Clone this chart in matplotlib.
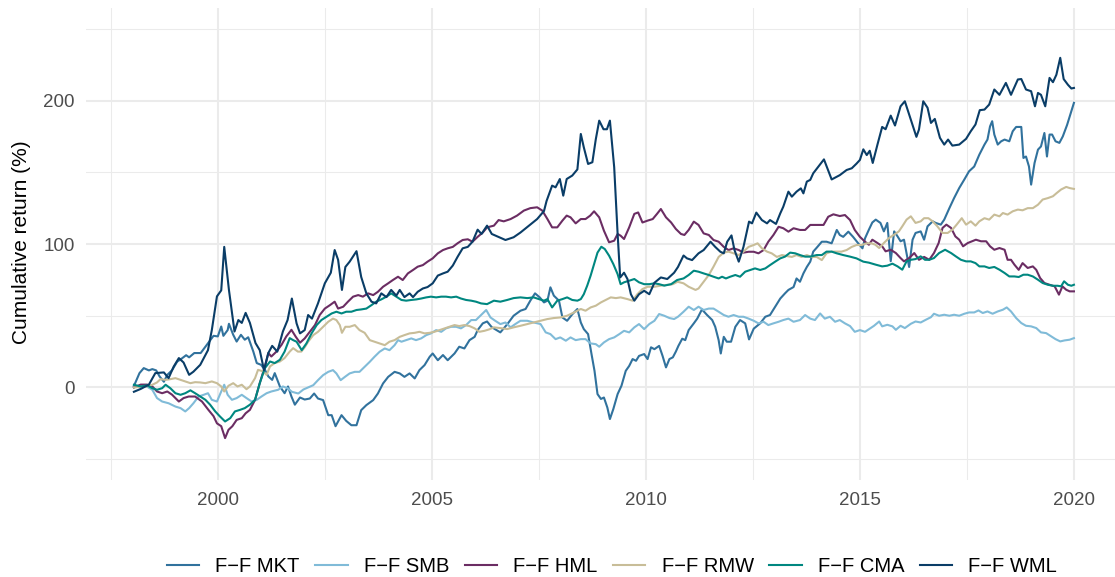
import matplotlib
matplotlib.use("Agg")
import matplotlib.pyplot as plt
from matplotlib.ticker import MultipleLocator

plt.rcParams['font.family'] = ['Liberation Sans', 'DejaVu Sans']

# Cumulative returns (%), (decimal year, value) per factor
mkt_year = [1998.04, 1998.17, 1998.27, 1998.39, 1998.47, 1998.56, 1998.64, 1998.74, 1998.82, 1998.93, 1999.05, 1999.15, 1999.26, 1999.33, 1999.45, 1999.6, 1999.75, 1999.9, 2000.0, 2000.08, 2000.13, 2000.23, 2000.26, 2000.36, 2000.44, 2000.54, 2000.63, 2000.71, 2000.83, 2000.91, 2001.01, 2001.1, 2001.18, 2001.27, 2001.33, 2001.45, 2001.56, 2001.64, 2001.72, 2001.8, 2001.92, 2002.03, 2002.15, 2002.25, 2002.34, 2002.46, 2002.58, 2002.66, 2002.75, 2002.89, 2003.0, 2003.12, 2003.24, 2003.35, 2003.47, 2003.63, 2003.74, 2003.86, 2003.98, 2004.13, 2004.25, 2004.36, 2004.48, 2004.6, 2004.71, 2004.83, 2004.95, 2005.02, 2005.14, 2005.26, 2005.37, 2005.53, 2005.64, 2005.76, 2005.88, 2006.0, 2006.07, 2006.19, 2006.29, 2006.4, 2006.6, 2006.76, 2006.91, 2007.07, 2007.19, 2007.3, 2007.41, 2007.52, 2007.62, 2007.7, 2007.77, 2007.85, 2007.97, 2008.05, 2008.16, 2008.28, 2008.4, 2008.48, 2008.55, 2008.65, 2008.73, 2008.8, 2008.87, 2008.95, 2009.02, 2009.1, 2009.16, 2009.24, 2009.34, 2009.43, 2009.53, 2009.61, 2009.69, 2009.77, 2009.84, 2009.96, 2010.04, 2010.12, 2010.2, 2010.31, 2010.39, 2010.47, 2010.55, 2010.63, 2010.7, 2010.76, 2010.85, 2010.92, 2011.0, 2011.12, 2011.2, 2011.31, 2011.43, 2011.55, 2011.62, 2011.7, 2011.75, 2011.82, 2011.89, 2011.99, 2012.09, 2012.2, 2012.32, 2012.41, 2012.52, 2012.67, 2012.79, 2012.9, 2013.02, 2013.14, 2013.25, 2013.33, 2013.45, 2013.52, 2013.6, 2013.68, 2013.76, 2013.84, 2013.91, 2013.99, 2014.11, 2014.22, 2014.34, 2014.46, 2014.53, 2014.61, 2014.73, 2014.84, 2014.96, 2015.06, 2015.12, 2015.21, 2015.29, 2015.37, 2015.48, 2015.56, 2015.64, 2015.72, 2015.8, 2015.88, 2015.95, 2016.03, 2016.15, 2016.23, 2016.3, 2016.42, 2016.5, 2016.58, 2016.7, 2016.77, 2016.89, 2016.97, 2017.09, 2017.2, 2017.32, 2017.44, 2017.55, 2017.67, 2017.79, 2017.91, 2017.98, 2018.04, 2018.09, 2018.14, 2018.22, 2018.3, 2018.38, 2018.49, 2018.57, 2018.65, 2018.77, 2018.82, 2018.88, 2018.95, 2019.0, 2019.08, 2019.16, 2019.23, 2019.31, 2019.37, 2019.43, 2019.49, 2019.57, 2019.66, 2019.74, 2019.84, 2019.94, 2020.0]
mkt_ret = [1, 10, 13.5, 11.9, 12.8, 11.9, 7.7, 4, 8.8, 12, 18, 20, 22.5, 21, 24, 24, 30, 36, 35.6, 42.5, 36, 40, 44.4, 36.7, 32, 36.7, 33.3, 35, 25, 17, 15.8, 12.3, 7.7, 5.3, 10, 0.7, -4, 0.7, -6.3, -12, -7, -8.4, -7.7, -4.2, -7.7, -8.8, -19.3, -19.3, -27, -19.3, -23.3, -26.3, -26.3, -15.8, -12.3, -8.8, -4.2, 2.8, 7.4, 10.9, 9.8, 7.4, 9.8, 6.3, 12.1, 15.6, 21.4, 23.7, 19, 22.6, 19, 23.7, 28.4, 27.2, 33, 35.3, 40, 44.7, 46, 42, 38.4, 44, 50, 53.5, 54.7, 60.5, 65.6, 62.8, 59.3, 60.5, 69.8, 64, 60.5, 48.8, 46.5, 51, 54.7, 45.3, 40.7, 37.2, 23.3, 11.6, -4.6, -8, -7, -14, -22, -15, -4.6, 1.2, 11.6, 15, 19.8, 18.6, 22, 23.3, 19.8, 28, 26.7, 29, 22, 14, 19.8, 21, 25, 29, 34, 33, 40, 44.7, 48, 54.4, 50.5, 47, 42.3, 33, 23.7, 35.3, 31.9, 31.9, 42.3, 47, 44.7, 33.5, 41, 44.7, 49.3, 50.5, 56.3, 62, 65.6, 68, 70, 76, 73.7, 79.5, 84, 87.7, 94.7, 97.4, 101.6, 101.6, 100.5, 109.8, 106.3, 105, 108.6, 105, 100.5, 97, 104, 110, 115, 117, 114.7, 108.8, 114.7, 88, 108.8, 105.3, 101.9, 103, 84, 103, 107.7, 108.8, 103, 112.3, 115.8, 114.7, 113.5, 117, 125, 132, 139, 145, 150.7, 154, 162.3, 169.3, 172.8, 182, 185.6, 176.3, 169.3, 171.6, 172.8, 171.6, 178.6, 181.6, 181.6, 160, 161, 154, 141.4, 156.5, 165.8, 168, 177.4, 161, 176.3, 176.3, 171.6, 170.5, 175, 183, 192.6, 198.4]

smb_year = [1998.04, 1998.2, 1998.35, 1998.47, 1998.58, 1998.7, 1998.85, 1999.01, 1999.13, 1999.24, 1999.33, 1999.43, 1999.55, 1999.67, 1999.77, 1999.86, 1999.98, 2000.08, 2000.15, 2000.23, 2000.33, 2000.44, 2000.56, 2000.67, 2000.79, 2000.91, 2001.02, 2001.14, 2001.25, 2001.41, 2001.52, 2001.63, 2001.73, 2001.88, 2002.0, 2002.11, 2002.23, 2002.34, 2002.46, 2002.58, 2002.69, 2002.77, 2002.87, 2002.97, 2003.08, 2003.2, 2003.31, 2003.43, 2003.55, 2003.66, 2003.78, 2003.9, 2004.01, 2004.13, 2004.21, 2004.29, 2004.4, 2004.52, 2004.63, 2004.75, 2004.87, 2004.98, 2005.1, 2005.22, 2005.33, 2005.45, 2005.57, 2005.68, 2005.8, 2005.92, 2006.03, 2006.15, 2006.27, 2006.37, 2006.48, 2006.6, 2006.72, 2006.84, 2006.95, 2007.07, 2007.23, 2007.38, 2007.54, 2007.66, 2007.77, 2007.89, 2008.0, 2008.13, 2008.24, 2008.36, 2008.48, 2008.59, 2008.71, 2008.83, 2008.91, 2009.02, 2009.14, 2009.26, 2009.38, 2009.49, 2009.61, 2009.73, 2009.84, 2009.96, 2010.08, 2010.2, 2010.31, 2010.43, 2010.55, 2010.66, 2010.75, 2010.88, 2011.0, 2011.12, 2011.23, 2011.35, 2011.47, 2011.58, 2011.7, 2011.82, 2011.93, 2012.05, 2012.17, 2012.28, 2012.4, 2012.52, 2012.63, 2012.75, 2012.86, 2012.98, 2013.1, 2013.21, 2013.33, 2013.45, 2013.6, 2013.72, 2013.84, 2013.95, 2014.07, 2014.18, 2014.3, 2014.42, 2014.53, 2014.65, 2014.77, 2014.88, 2015.0, 2015.12, 2015.23, 2015.33, 2015.45, 2015.52, 2015.64, 2015.76, 2015.84, 2015.95, 2016.05, 2016.19, 2016.3, 2016.42, 2016.54, 2016.66, 2016.73, 2016.85, 2016.97, 2017.09, 2017.2, 2017.32, 2017.44, 2017.55, 2017.67, 2017.77, 2017.87, 2017.98, 2018.1, 2018.22, 2018.34, 2018.43, 2018.53, 2018.65, 2018.77, 2018.88, 2019.0, 2019.12, 2019.23, 2019.35, 2019.47, 2019.57, 2019.68, 2019.78, 2019.9, 2020.0]
smb_ret = [0, 1.5, 0.5, -1.6, -7.4, -9.8, -11, -13.3, -14.4, -16.7, -14.4, -11, -6.3, -5.1, -4, -8.6, -9.8, -2.8, 1.9, -5.1, -8.6, -7.4, -5.1, -7.4, -9.8, -8.6, -6.3, -4, -2.8, -1.6, 0.7, -0.5, -3, -4.2, -1.4, 0, 1.6, 5.1, 8.6, 10.9, 12.1, 9.8, 5.1, 7.4, 9.8, 10.9, 10.9, 14.4, 17.9, 21.4, 24.9, 27.2, 26, 29.5, 33, 31.9, 33, 34.2, 33, 34.2, 36.5, 37.7, 40, 38.8, 41.2, 42.3, 42.3, 41.2, 43.5, 47, 47, 50.5, 54, 48.8, 46.5, 44.2, 45.3, 41.9, 44.2, 46.5, 46.5, 45.3, 44.2, 38.4, 37.2, 33.7, 34.9, 32.6, 34.9, 33, 33.7, 33.7, 30.7, 30.2, 28.4, 31.4, 33.7, 34.9, 37.2, 39.5, 38.4, 41.9, 44.2, 40.7, 44.2, 46.5, 51.2, 50, 48.4, 47.7, 49.3, 52.8, 56.3, 54, 56.3, 54, 55, 55, 52.8, 50.5, 49.3, 50.5, 49.3, 49.3, 48, 46.5, 44.7, 45.8, 43.5, 44.7, 45.8, 47, 48, 45.8, 47, 50.5, 48, 47, 51.6, 48, 49.3, 45.8, 47, 44.7, 42.8, 38.8, 40, 38.8, 41, 43, 46, 42.6, 43.7, 42.6, 40.2, 43, 41.4, 44.4, 46, 45.3, 47.2, 49, 51.4, 50, 50.7, 50, 50.7, 50, 51.4, 52.3, 52.3, 53.7, 51.9, 53, 51.4, 53, 54.2, 55.8, 53, 48.4, 44.9, 43, 42.6, 41.4, 38.4, 37.9, 35.6, 33.7, 32.1, 32.8, 33.3, 34.4]

hml_year = [1998.04, 1998.2, 1998.35, 1998.47, 1998.58, 1998.7, 1998.82, 1998.93, 1999.09, 1999.2, 1999.32, 1999.47, 1999.63, 1999.78, 1999.9, 1999.98, 2000.08, 2000.17, 2000.25, 2000.34, 2000.44, 2000.56, 2000.65, 2000.75, 2000.87, 2000.98, 2001.1, 2001.18, 2001.25, 2001.37, 2001.49, 2001.6, 2001.72, 2001.82, 2001.92, 2002.03, 2002.15, 2002.27, 2002.38, 2002.5, 2002.62, 2002.73, 2002.81, 2002.93, 2003.04, 2003.16, 2003.28, 2003.39, 2003.51, 2003.63, 2003.74, 2003.86, 2003.98, 2004.09, 2004.21, 2004.32, 2004.44, 2004.56, 2004.67, 2004.79, 2004.9, 2005.02, 2005.14, 2005.26, 2005.37, 2005.49, 2005.6, 2005.72, 2005.84, 2005.95, 2006.07, 2006.19, 2006.29, 2006.45, 2006.56, 2006.68, 2006.84, 2006.99, 2007.15, 2007.3, 2007.46, 2007.58, 2007.7, 2007.81, 2007.93, 2008.05, 2008.15, 2008.24, 2008.36, 2008.48, 2008.59, 2008.7, 2008.79, 2008.91, 2009.02, 2009.14, 2009.26, 2009.34, 2009.41, 2009.49, 2009.61, 2009.73, 2009.82, 2009.92, 2010.04, 2010.16, 2010.26, 2010.35, 2010.47, 2010.59, 2010.7, 2010.82, 2010.9, 2011.0, 2011.12, 2011.23, 2011.35, 2011.47, 2011.58, 2011.7, 2011.82, 2011.93, 2012.05, 2012.17, 2012.28, 2012.4, 2012.52, 2012.63, 2012.75, 2012.86, 2012.98, 2013.1, 2013.21, 2013.33, 2013.45, 2013.6, 2013.72, 2013.84, 2013.99, 2014.15, 2014.26, 2014.38, 2014.53, 2014.65, 2014.77, 2014.88, 2015.0, 2015.12, 2015.21, 2015.29, 2015.41, 2015.52, 2015.6, 2015.72, 2015.84, 2015.95, 2016.03, 2016.15, 2016.27, 2016.38, 2016.5, 2016.62, 2016.73, 2016.84, 2016.93, 2017.02, 2017.13, 2017.23, 2017.32, 2017.41, 2017.52, 2017.62, 2017.71, 2017.83, 2017.95, 2018.04, 2018.14, 2018.26, 2018.38, 2018.45, 2018.53, 2018.61, 2018.71, 2018.8, 2018.92, 2019.04, 2019.12, 2019.21, 2019.31, 2019.43, 2019.55, 2019.65, 2019.73, 2019.82, 2019.9, 2020.0]
hml_ret = [0, 2, 2, 0.7, -2.8, -4, -2.8, -5, -9.8, -7.4, -6.3, -6.3, -9.8, -15.6, -20, -25, -27, -35.3, -29.5, -27, -22.6, -21.4, -18, -15.6, -8.6, 3, 14.7, 24, 21.6, 25, 29.8, 35.6, 40.2, 35.4, 31.2, 34.2, 38.8, 43.5, 50.5, 55, 57.4, 59.8, 55, 56.3, 59.8, 63.3, 64.4, 63.3, 65.6, 64.4, 66.7, 70.2, 72.6, 74.9, 77.2, 74.9, 79.5, 81.9, 84.2, 85.3, 87.7, 90, 93.5, 95.8, 97, 98, 100.5, 102.8, 103.3, 101.6, 105, 108, 111.6, 112.8, 116.7, 115.8, 117.4, 119.8, 123.3, 125, 125.6, 123.3, 117.4, 111.6, 111.6, 116.3, 119.8, 118.6, 114.4, 117.4, 117.4, 119.8, 122.8, 118.6, 109.3, 101.2, 102.3, 107, 105.8, 103.5, 111.6, 121, 122, 115, 116.3, 117.4, 121, 124.4, 118.6, 115, 110.5, 107, 106.3, 109.8, 115.6, 113.3, 107.4, 106.3, 102.8, 101.6, 98, 95.8, 97, 95.8, 94, 94.6, 94.6, 93.5, 95.8, 101.6, 106.3, 112, 111, 108.6, 111, 109.8, 109.8, 113.3, 113.3, 113.3, 119, 120.7, 119.5, 120.2, 116.7, 109.8, 105, 101.6, 99.5, 103, 100.7, 98.4, 94.9, 96, 93.7, 90.2, 87.9, 90.2, 93.7, 89, 91, 89, 93.7, 100.7, 111.2, 113.5, 111.2, 105.3, 103, 98.4, 100.7, 101.9, 103, 101.9, 101.9, 98.4, 96, 97.2, 96, 89, 89, 85.6, 82, 86.7, 83.3, 84.4, 82, 76.3, 72.8, 71.6, 70.5, 64.7, 70.5, 68.1, 67, 67]

rmw_year = [1998.04, 1998.2, 1998.35, 1998.47, 1998.58, 1998.66, 1998.78, 1998.89, 1999.01, 1999.13, 1999.24, 1999.36, 1999.47, 1999.59, 1999.71, 1999.86, 1999.98, 2000.08, 2000.15, 2000.25, 2000.36, 2000.46, 2000.56, 2000.67, 2000.75, 2000.87, 2000.94, 2001.06, 2001.14, 2001.22, 2001.33, 2001.45, 2001.56, 2001.68, 2001.76, 2001.87, 2001.95, 2002.03, 2002.11, 2002.23, 2002.34, 2002.46, 2002.58, 2002.69, 2002.77, 2002.85, 2002.9, 2002.98, 2003.08, 2003.2, 2003.31, 2003.43, 2003.55, 2003.66, 2003.78, 2003.9, 2004.01, 2004.13, 2004.25, 2004.36, 2004.48, 2004.6, 2004.71, 2004.83, 2004.95, 2005.06, 2005.18, 2005.3, 2005.41, 2005.53, 2005.64, 2005.76, 2005.88, 2006.0, 2006.11, 2006.23, 2006.34, 2006.45, 2006.6, 2006.76, 2006.91, 2007.07, 2007.23, 2007.38, 2007.54, 2007.7, 2007.85, 2008.0, 2008.16, 2008.32, 2008.48, 2008.59, 2008.71, 2008.83, 2008.95, 2009.06, 2009.18, 2009.3, 2009.41, 2009.57, 2009.69, 2009.8, 2009.92, 2010.04, 2010.2, 2010.35, 2010.51, 2010.63, 2010.74, 2010.88, 2011.0, 2011.16, 2011.23, 2011.35, 2011.47, 2011.58, 2011.7, 2011.82, 2011.93, 2012.05, 2012.17, 2012.28, 2012.4, 2012.52, 2012.61, 2012.71, 2012.83, 2012.94, 2013.06, 2013.18, 2013.29, 2013.41, 2013.52, 2013.64, 2013.76, 2013.87, 2013.99, 2014.11, 2014.22, 2014.34, 2014.46, 2014.57, 2014.69, 2014.81, 2014.92, 2015.04, 2015.16, 2015.27, 2015.36, 2015.45, 2015.56, 2015.68, 2015.8, 2015.91, 2015.99, 2016.09, 2016.19, 2016.3, 2016.42, 2016.5, 2016.6, 2016.7, 2016.81, 2016.93, 2017.05, 2017.16, 2017.26, 2017.38, 2017.48, 2017.59, 2017.7, 2017.79, 2017.91, 2018.02, 2018.14, 2018.26, 2018.34, 2018.45, 2018.57, 2018.69, 2018.8, 2018.92, 2019.04, 2019.16, 2019.27, 2019.39, 2019.51, 2019.6, 2019.7, 2019.82, 2019.9, 2020.0]
rmw_ret = [0, 0.5, 0.7, 1.9, 3.5, 5.8, 5.3, 5.8, 6.5, 5.3, 4.2, 3, 3.7, 3.5, 3, 4.2, 3, 0.7, -2.8, 1.2, 3, 0.7, 1.9, -1.2, 0.7, 6.5, 12.3, 11.2, 8.8, 14.7, 17, 18.1, 20.5, 25, 27.4, 25, 25, 28, 31.9, 36.5, 38.8, 42.3, 45.8, 48, 47, 43.5, 38.1, 42.3, 42.3, 43.5, 40, 38.1, 33, 31.9, 30.7, 29.5, 31.9, 33, 35.3, 36.5, 37.7, 38.1, 38.8, 37.7, 38.1, 38.8, 40, 41.2, 42.3, 43.5, 42.8, 43.5, 42.8, 41.2, 38.8, 39.5, 40.5, 41.9, 41.4, 40.7, 41.9, 43, 44.2, 45.3, 46.5, 47.7, 48.4, 48.8, 50, 52.3, 54.7, 53.5, 55.8, 57, 59.3, 61, 62.8, 62.3, 62.8, 61.6, 60.5, 65, 68.6, 70.2, 70.2, 71, 71.6, 72, 73.7, 72.6, 70.2, 68, 69, 73.7, 78.4, 84.2, 91, 94, 94.7, 93.5, 92.3, 94.7, 98, 99.3, 100.5, 97, 94.7, 93.5, 91, 92.3, 91.6, 91, 92.3, 91, 92.3, 91, 91, 88.8, 93.5, 94.7, 94.7, 94.7, 95.8, 98, 99.3, 99.3, 100.5, 100.5, 99.5, 97.2, 100.7, 104.2, 106.5, 108.8, 112.3, 117, 119.3, 114.7, 115.8, 118, 118, 115.8, 112.3, 107.7, 107.7, 110, 113.5, 118, 113.5, 115.8, 112.8, 115.8, 118, 117, 120.5, 119.3, 121.6, 120.5, 122.8, 124, 123.5, 125, 125, 127.4, 131, 132, 133.3, 135.6, 138, 139.8, 139, 138.4]

cma_year = [1998.04, 1998.2, 1998.35, 1998.47, 1998.58, 1998.7, 1998.78, 1998.89, 1999.01, 1999.13, 1999.24, 1999.36, 1999.47, 1999.59, 1999.71, 1999.82, 1999.94, 2000.05, 2000.17, 2000.29, 2000.4, 2000.52, 2000.63, 2000.75, 2000.87, 2000.98, 2001.1, 2001.22, 2001.33, 2001.45, 2001.56, 2001.68, 2001.76, 2001.84, 2001.96, 2002.07, 2002.19, 2002.31, 2002.42, 2002.54, 2002.66, 2002.77, 2002.89, 2003.0, 2003.12, 2003.24, 2003.35, 2003.47, 2003.59, 2003.7, 2003.82, 2003.94, 2004.05, 2004.17, 2004.29, 2004.4, 2004.52, 2004.64, 2004.75, 2004.87, 2004.98, 2005.1, 2005.22, 2005.33, 2005.45, 2005.57, 2005.68, 2005.8, 2005.92, 2006.03, 2006.15, 2006.29, 2006.45, 2006.6, 2006.76, 2006.91, 2007.07, 2007.23, 2007.38, 2007.5, 2007.62, 2007.7, 2007.81, 2007.93, 2008.05, 2008.16, 2008.28, 2008.4, 2008.48, 2008.55, 2008.63, 2008.71, 2008.79, 2008.87, 2008.96, 2009.04, 2009.14, 2009.24, 2009.34, 2009.41, 2009.49, 2009.61, 2009.73, 2009.84, 2009.96, 2010.08, 2010.2, 2010.31, 2010.43, 2010.59, 2010.73, 2010.88, 2011.0, 2011.12, 2011.23, 2011.35, 2011.47, 2011.58, 2011.7, 2011.78, 2011.87, 2011.97, 2012.09, 2012.2, 2012.32, 2012.44, 2012.55, 2012.67, 2012.79, 2012.9, 2013.02, 2013.14, 2013.25, 2013.37, 2013.49, 2013.6, 2013.72, 2013.84, 2013.99, 2014.11, 2014.22, 2014.34, 2014.46, 2014.61, 2014.77, 2014.92, 2015.08, 2015.21, 2015.37, 2015.52, 2015.64, 2015.76, 2015.88, 2015.99, 2016.09, 2016.19, 2016.3, 2016.42, 2016.52, 2016.62, 2016.73, 2016.85, 2016.99, 2017.13, 2017.24, 2017.36, 2017.48, 2017.59, 2017.7, 2017.79, 2017.91, 2018.02, 2018.14, 2018.26, 2018.38, 2018.49, 2018.61, 2018.71, 2018.82, 2018.92, 2019.04, 2019.16, 2019.27, 2019.39, 2019.51, 2019.62, 2019.7, 2019.77, 2019.86, 2019.94, 2020.0]
cma_ret = [1.9, 0.7, 1.5, -0.5, -1.6, -0.5, 1.9, -0.5, -4, -5.1, -4, -2, -4, -6.3, -8.6, -12, -16.7, -20.2, -23.7, -21.4, -16.7, -15.6, -14.4, -12, -8.6, 3, 13.5, 18.1, 17, 19.3, 25, 34.4, 33, 31.9, 26, 30.7, 37.7, 43.5, 47, 49.3, 51.6, 52.8, 51.6, 52.8, 52.8, 54, 54.4, 55, 57.4, 59.8, 61.4, 63.3, 65.6, 63.3, 61, 60.5, 61, 61.4, 62, 62.8, 63.3, 62.8, 63.3, 63.3, 62.8, 63.3, 62, 61, 60.5, 59.8, 58.6, 58.1, 60.5, 59.8, 61, 62.3, 62.8, 62.3, 62.8, 61.6, 60.5, 61.6, 55.8, 60.5, 61.6, 62.8, 61, 60.5, 61.6, 65, 71, 78, 86, 94, 98.1, 96.5, 91.9, 86, 79, 72, 73.3, 74.4, 75.6, 73.3, 72, 72, 72.6, 72, 71, 72, 74.9, 76, 78.4, 81.4, 80.7, 79.5, 78.4, 77.2, 76, 77.2, 76, 77.2, 78.4, 77.2, 80.7, 81.9, 83, 81.9, 83, 85.3, 87.7, 90, 91.2, 94, 93.5, 92.3, 91.2, 91.2, 92.3, 92.3, 94.7, 94.7, 93.5, 92.3, 91.2, 90, 87.7, 87, 85.6, 84.4, 84.9, 86.3, 84.4, 82.1, 87.9, 89, 89.5, 91.4, 89, 89, 90.2, 93.7, 96, 93.7, 91.4, 89, 87.9, 87.9, 86.7, 84.4, 84.4, 83.3, 84, 82.1, 79.8, 77.4, 77.4, 77, 78.6, 78.6, 77.4, 75.1, 72.8, 71.6, 70.9, 70.9, 70.5, 74, 71.6, 70.9, 71.6]

wml_year = [1998.04, 1998.2, 1998.39, 1998.54, 1998.74, 1998.85, 1998.97, 1999.09, 1999.2, 1999.33, 1999.43, 1999.59, 1999.77, 1999.86, 1999.98, 2000.08, 2000.15, 2000.26, 2000.39, 2000.48, 2000.56, 2000.65, 2000.75, 2000.88, 2000.98, 2001.08, 2001.18, 2001.27, 2001.39, 2001.52, 2001.63, 2001.73, 2001.84, 2001.92, 2002.03, 2002.11, 2002.2, 2002.34, 2002.5, 2002.64, 2002.73, 2002.81, 2002.9, 2002.98, 2003.08, 2003.24, 2003.35, 2003.47, 2003.59, 2003.7, 2003.82, 2003.94, 2004.05, 2004.17, 2004.25, 2004.36, 2004.48, 2004.56, 2004.67, 2004.79, 2004.9, 2005.02, 2005.14, 2005.26, 2005.37, 2005.49, 2005.6, 2005.72, 2005.84, 2005.95, 2006.07, 2006.16, 2006.29, 2006.4, 2006.72, 2006.91, 2007.07, 2007.27, 2007.46, 2007.62, 2007.68, 2007.81, 2007.89, 2007.99, 2008.07, 2008.15, 2008.28, 2008.4, 2008.48, 2008.55, 2008.65, 2008.75, 2008.83, 2008.91, 2009.01, 2009.09, 2009.16, 2009.26, 2009.34, 2009.4, 2009.49, 2009.57, 2009.65, 2009.73, 2009.84, 2009.96, 2010.08, 2010.2, 2010.35, 2010.5, 2010.66, 2010.75, 2010.88, 2010.96, 2011.08, 2011.23, 2011.35, 2011.51, 2011.62, 2011.74, 2011.82, 2011.9, 2012.0, 2012.07, 2012.17, 2012.28, 2012.41, 2012.48, 2012.58, 2012.71, 2012.83, 2012.9, 2013.04, 2013.14, 2013.21, 2013.33, 2013.41, 2013.52, 2013.62, 2013.68, 2013.76, 2013.84, 2013.91, 2014.03, 2014.16, 2014.34, 2014.53, 2014.69, 2014.81, 2014.92, 2015.0, 2015.08, 2015.16, 2015.23, 2015.3, 2015.41, 2015.52, 2015.6, 2015.72, 2015.82, 2015.95, 2016.05, 2016.19, 2016.32, 2016.38, 2016.48, 2016.58, 2016.66, 2016.75, 2016.87, 2016.97, 2017.06, 2017.16, 2017.32, 2017.48, 2017.59, 2017.7, 2017.8, 2017.91, 2018.02, 2018.14, 2018.26, 2018.41, 2018.53, 2018.69, 2018.77, 2018.88, 2019.0, 2019.09, 2019.16, 2019.23, 2019.33, 2019.43, 2019.51, 2019.59, 2019.68, 2019.76, 2019.86, 2019.94, 2020.0]
wml_ret = [-3, -1, 2, 10, 10.5, 6.5, 14.6, 20.5, 17.4, 8.8, 11, 15.8, 26, 40, 63.5, 67.7, 98, 68, 39, 47, 45, 52, 45, 31, 26, 12, 24, 29, 25, 39, 47, 62, 44.7, 37.7, 40, 50.5, 48, 58.6, 72.6, 80, 95.8, 89, 68, 84, 87.7, 95, 77, 65.6, 59.8, 58.6, 65.6, 63, 68, 64, 68, 63, 65.6, 63, 66.7, 69, 70, 72.6, 78, 79.5, 80.7, 85, 91, 97, 98, 101.6, 110, 107, 112.8, 107, 102.8, 104.7, 108, 112.8, 117.4, 123, 130, 140.7, 139.5, 145.3, 133.7, 145.3, 147.7, 152, 176.7, 167.4, 155.8, 157, 173, 186, 180, 180, 186, 153.5, 107, 76.7, 80, 75.6, 65, 60.5, 65, 67.4, 65, 73, 76.7, 75.6, 80, 84, 92, 90, 88.8, 93.5, 95.8, 101.6, 98, 94.6, 93.5, 101.6, 106, 95.8, 87.7, 98, 115.6, 114.4, 121.9, 116.7, 114.4, 116.7, 114, 121.4, 126, 136.5, 133, 136.5, 138.8, 135.3, 143.5, 144.7, 149.3, 154, 159, 145, 148, 151.6, 152.8, 156, 158.6, 166, 162, 165, 156.5, 169.3, 181.6, 180, 189.5, 182.6, 196, 199.5, 186.7, 174.7, 179.8, 199.5, 195, 184.4, 187.2, 174, 169.3, 172.8, 168.6, 169.3, 173.3, 178.6, 183.3, 193.3, 193.7, 197.2, 207.7, 204, 212.3, 204, 214.7, 215, 207.7, 206.5, 196, 205.3, 204, 196, 215.8, 212.8, 218, 229.8, 215, 211, 208.4, 208.8]

labels = ["F\u2212F MKT", "F\u2212F SMB", "F\u2212F HML", "F\u2212F RMW", "F\u2212F CMA", "F\u2212F WML"]
colors = ["#31729D", "#80BBD8", "#6B2D63", "#C8BD98", "#008780", "#0A3D67"]
years = [mkt_year, smb_year, hml_year, rmw_year, cma_year, wml_year]
rets = [mkt_ret, smb_ret, hml_ret, rmw_ret, cma_ret, wml_ret]

fig = plt.figure(figsize=(11.15, 5.77), dpi=100)
ax = fig.add_axes([0.0771, 0.1681, 0.9283, 0.818])

for x, y, lab, col in zip(years, rets, labels, colors):
    ax.plot(x, y, color=col, lw=1.5, label=lab, solid_joinstyle='round')

ax.set_xlim(1996.92, 2021.1)
ax.set_ylim(-64.5, 264.5)
ax.xaxis.set_major_locator(MultipleLocator(5))
ax.xaxis.set_minor_locator(MultipleLocator(2.5))
ax.yaxis.set_major_locator(MultipleLocator(100))
ax.yaxis.set_minor_locator(MultipleLocator(50))
ax.grid(True, which='major', color='#EBEBEB', lw=1.5)
ax.grid(True, which='minor', color='#EBEBEB', lw=0.75)
ax.set_axisbelow(True)
for s in ax.spines.values():
    s.set_visible(False)
ax.tick_params(which='both', length=0, labelsize=13.5, labelcolor='#4D4D4D')
ax.tick_params(axis='x', pad=8.5)
ax.tick_params(axis='y', pad=8)

fig.text(22 / 1115, 1 - 242 / 577, "Cumulative return (%)", rotation=90,
         ha='center', va='center', fontsize=15, color='black')

fig.legend(loc='center', bbox_to_anchor=(612 / 1115, 1 - 567 / 577), ncol=6,
           frameon=False, fontsize=14.5, handlelength=1.6, handletextpad=0.8,
           columnspacing=0.78)

fig.savefig("out.png", dpi=100)
